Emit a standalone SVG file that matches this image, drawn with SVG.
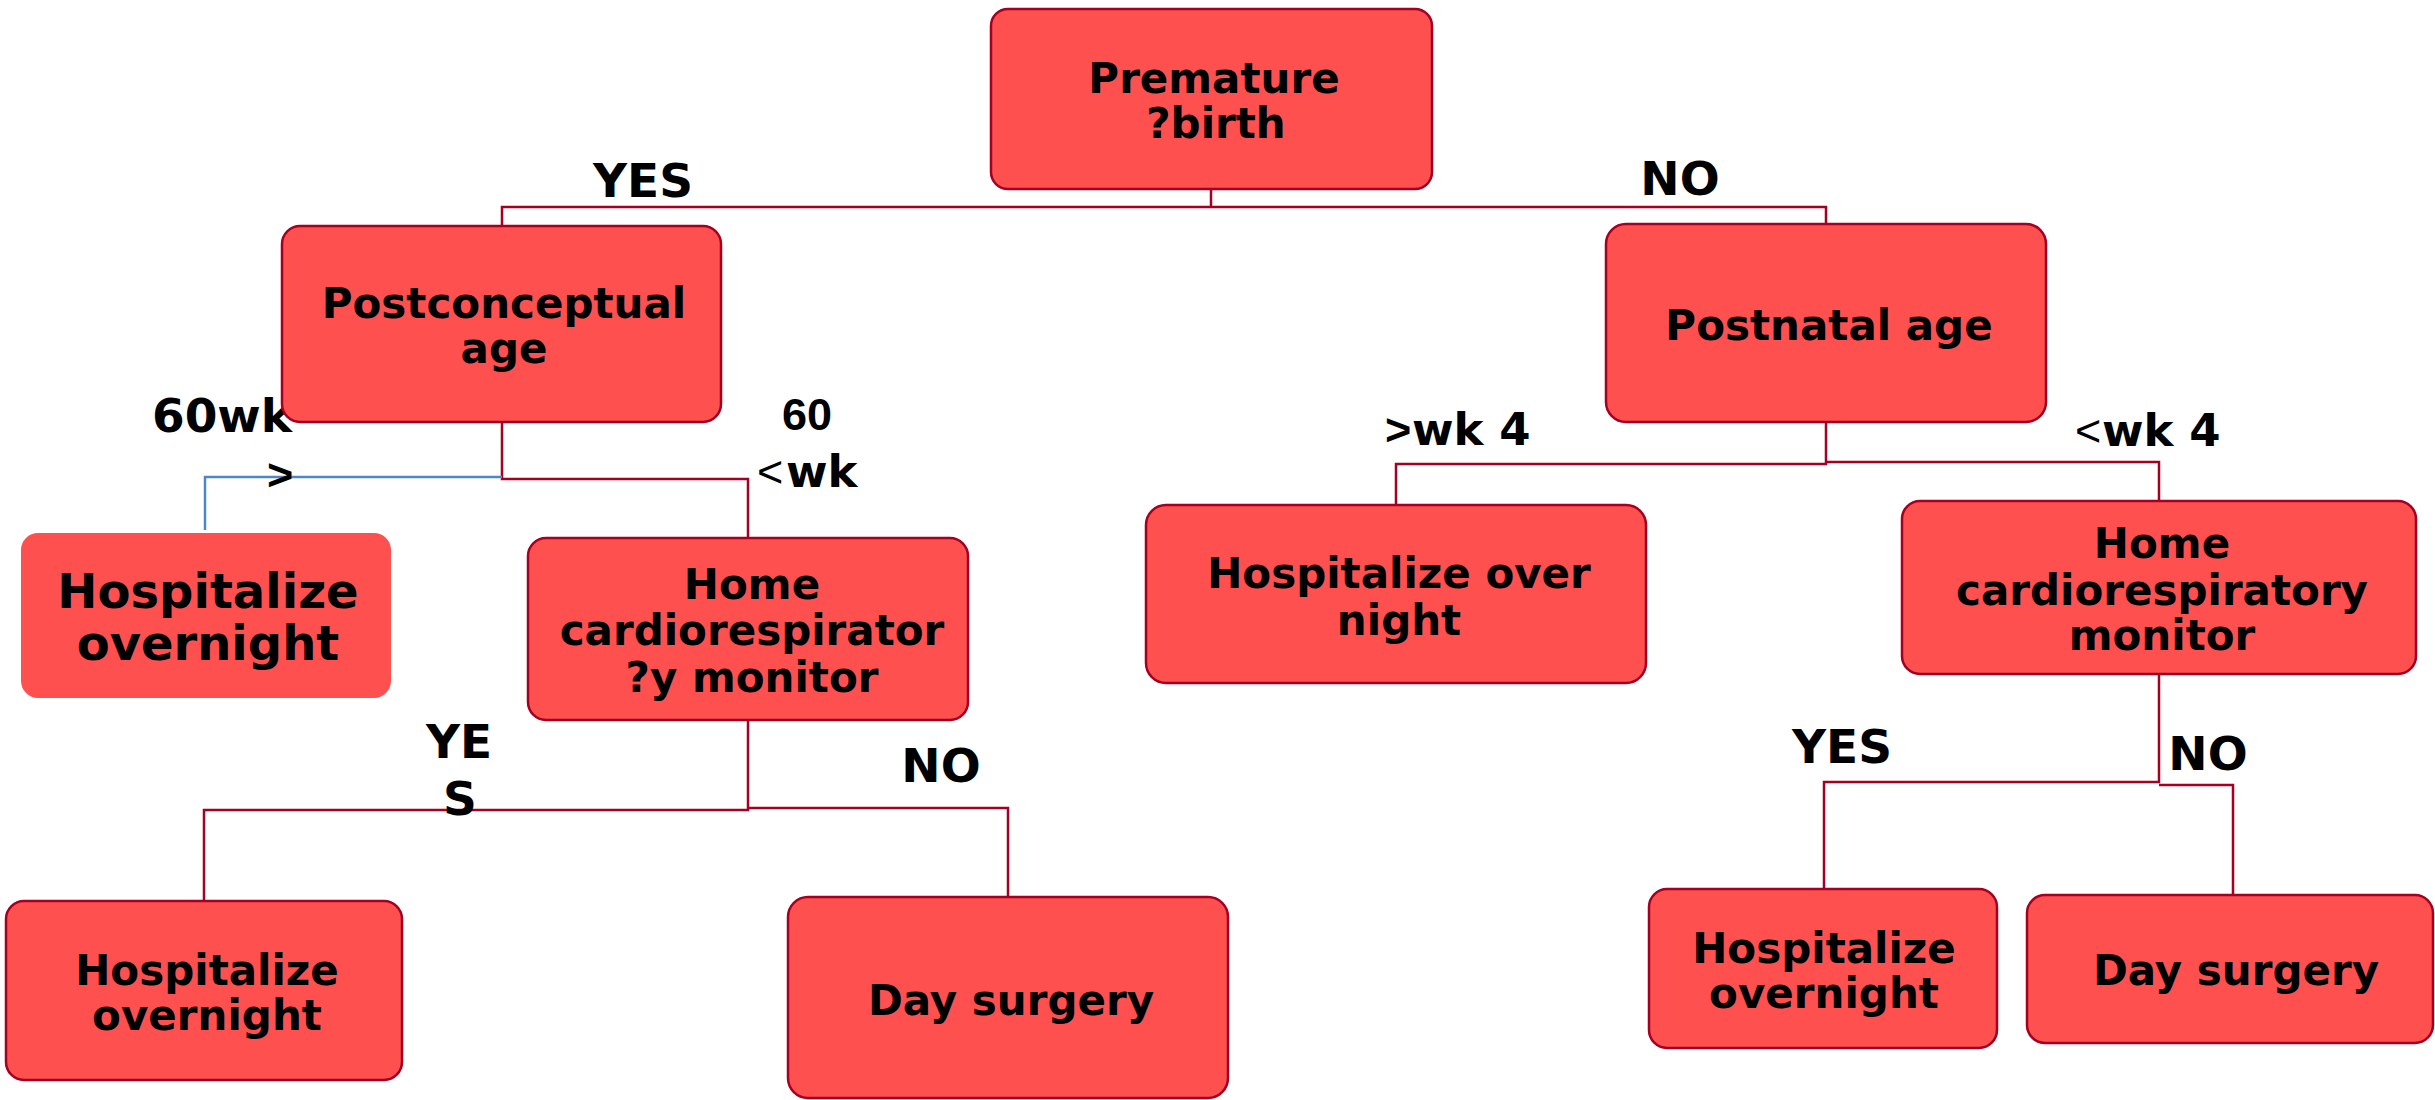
<svg xmlns="http://www.w3.org/2000/svg" width="2435" height="1100" viewBox="0 0 2435 1100">
<style>
.box{fill:#ff5050;stroke:#a50021;stroke-width:2.5}
.boxn{fill:#ff5050;stroke:none}
.t{font-family:"DejaVu Sans",sans-serif;font-weight:bold;font-size:42px;fill:#000;text-anchor:middle}
.t48{font-size:48px}
.lb{font-family:"DejaVu Sans",sans-serif;font-weight:bold;font-size:47px;fill:#000;text-anchor:middle}
.lw{font-family:"DejaVu Sans",sans-serif;font-weight:bold;font-size:45px;fill:#000}
.ar{font-family:"Liberation Sans",sans-serif;font-size:45px;fill:#000}
.c{fill:none;stroke:#a50021;stroke-width:2.5}
.cb{fill:none;stroke:#4f86c6;stroke-width:2.5}
</style>
<rect width="2435" height="1100" fill="#fff"/>
<g id="connectors">
<path class="c" d="M1211,188 V207 M502,226 V207 H1826 V224"/>
<path class="c" d="M502,422 V479 H748 V538"/>
<path class="cb" d="M205,530 V477 H502"/>
<path class="c" d="M748,720 V810 H204 V901 M748,808 H1008 V897"/>
<path class="c" d="M1826,422 V464 H1396 V505 M1826,462 H2159 V501"/>
<path class="c" d="M2159,674 V782 H1824 V889 M2159,785 H2233 V895"/>
</g>
<g id="labels">
<text class="lb" x="643" y="197">YES</text>
<text class="lb" x="1680" y="195">NO</text>
<text class="lb" x="222" y="432">60wk</text>
<text class="ar" x="267" y="490" font-weight="bold">&gt;</text>
<text class="ar" x="782" y="430" font-weight="bold" font-size="46">60</text>
<text class="ar" x="757" y="487">&lt;</text>
<text class="lw" x="786" y="487">wk</text>
<text class="ar" x="1385" y="445" font-weight="bold">&gt;</text>
<text class="lw" x="1412" y="445">wk 4</text>
<text class="ar" x="2075" y="446">&lt;</text>
<text class="lw" x="2102" y="446">wk 4</text>
<text class="lb" x="459" y="758">YE</text>
<text class="lb" x="460" y="815">S</text>
<text class="lb" x="941" y="782">NO</text>
<text class="lb" x="1842" y="763">YES</text>
<text class="lb" x="2208" y="770">NO</text>
</g>
<g id="premature">
<rect class="box" x="991" y="9" width="441" height="180" rx="17"/>
<text class="t" x="1214" y="93">Premature</text>
<text class="t" x="1216" y="138">?birth</text>
</g>
<g id="postconceptual">
<rect class="box" x="282" y="226" width="439" height="196" rx="18"/>
<text class="t" x="504" y="318">Postconceptual</text>
<text class="t" x="504" y="363">age</text>
</g>
<g id="postnatal">
<rect class="box" x="1606" y="224" width="440" height="198" rx="20"/>
<text class="t" x="1829" y="340">Postnatal age</text>
</g>
<g id="hosp-left-top">
<rect class="boxn" x="21" y="533" width="370" height="165" rx="17"/>
<text class="t t48" x="208" y="608">Hospitalize</text>
<text class="t t48" x="208" y="660">overnight</text>
</g>
<g id="monitor-left">
<rect class="box" x="528" y="538" width="440" height="182" rx="18"/>
<text class="t" x="752" y="599">Home</text>
<text class="t" x="752" y="645">cardiorespirator</text>
<text class="t" x="752" y="692">?y monitor</text>
</g>
<g id="hosp-over-night">
<rect class="box" x="1146" y="505" width="500" height="178" rx="20"/>
<text class="t" x="1399" y="588">Hospitalize over</text>
<text class="t" x="1399" y="635">night</text>
</g>
<g id="monitor-right">
<rect class="box" x="1902" y="501" width="514" height="173" rx="18"/>
<text class="t" x="2162" y="558">Home</text>
<text class="t" x="2162" y="605">cardiorespiratory</text>
<text class="t" x="2162" y="650">monitor</text>
</g>
<g id="hosp-left-bottom">
<rect class="box" x="6" y="901" width="396" height="179" rx="18"/>
<text class="t" x="207" y="985">Hospitalize</text>
<text class="t" x="207" y="1030">overnight</text>
</g>
<g id="day-left">
<rect class="box" x="788" y="897" width="440" height="201" rx="20"/>
<text class="t" x="1011" y="1015">Day surgery</text>
</g>
<g id="hosp-right">
<rect class="box" x="1649" y="889" width="348" height="159" rx="18"/>
<text class="t" x="1824" y="963">Hospitalize</text>
<text class="t" x="1824" y="1008">overnight</text>
</g>
<g id="day-right">
<rect class="box" x="2027" y="895" width="406" height="148" rx="18"/>
<text class="t" x="2236" y="985">Day surgery</text>
</g>
</svg>
